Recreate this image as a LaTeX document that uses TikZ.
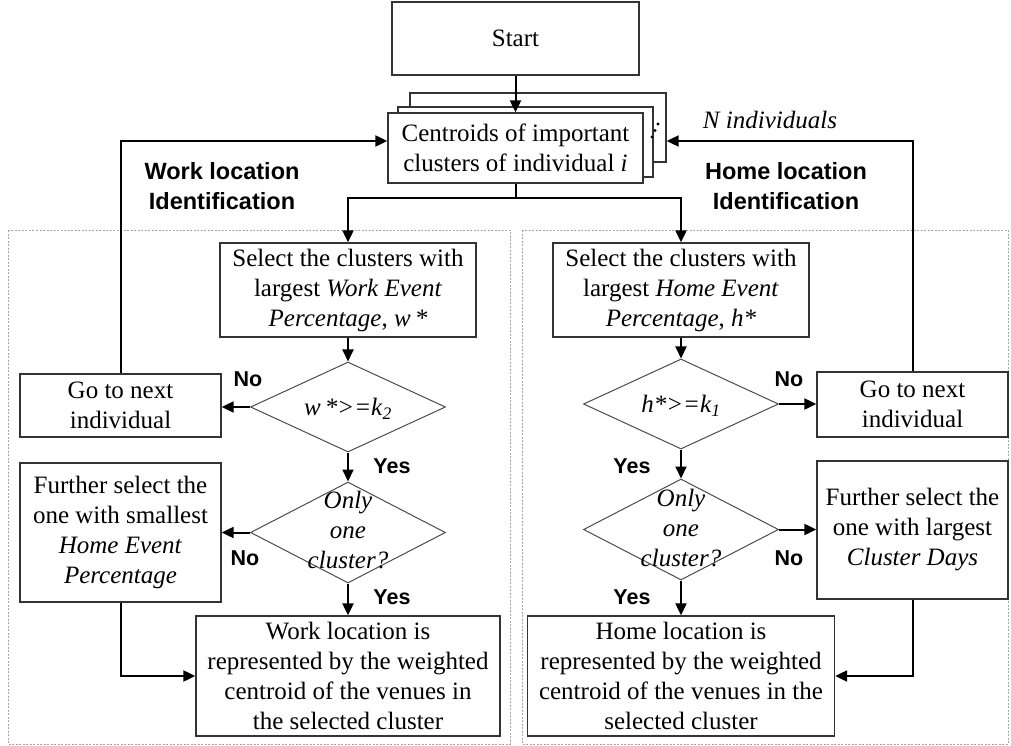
\documentclass[tikz,border=0pt]{standalone}
\usepackage{fontspec}
\setmainfont{Liberation Serif}
\newfontfamily\labfont{Liberation Sans}
\usetikzlibrary{shapes.geometric,arrows.meta}
\begin{document}
\begin{tikzpicture}[x=1pt,y=-1pt,
 every node/.style={font=\fontsize{25}{30}\selectfont},
 box/.style={draw=black!80, line width=1.3pt, fill=white, inner sep=0pt, align=center},
 dia/.style={diamond, draw=black!70, line width=1pt, inner sep=0pt},
 arr/.style={line width=2pt, -{Triangle[length=12pt,width=11pt]}},
 ln/.style={line width=2pt},
 lab/.style={font=\labfont\bfseries\fontsize{21.5}{24}\selectfont, inner sep=0pt},
 sect/.style={font=\labfont\bfseries\fontsize{23.5}{30}\selectfont, align=center, inner sep=0pt},
 region/.style={draw=black!35, line width=0.8pt, dash pattern=on 2pt off 1.5pt},
 txt/.style={inner sep=0pt, align=center}
]
\useasboundingbox (0,0) rectangle (1011,746);
\fill[white] (0,0) rectangle (1011,746);

% dashed regions
\draw[region] (8,230) rectangle (510,744);
\draw[region] (522,230) rectangle (1008,744);

% start and stacked boxes
\node[box, minimum width=247, minimum height=73] (start) at (515.5,38.5) {Start};
\node[box, minimum width=256, minimum height=69] (back) at (538,127.5) {};
\node[box, minimum width=255, minimum height=70] (mid) at (525.5,142) {};
\node[box, minimum width=255, minimum height=70] (front) at (515.5,148) {Centroids of important\\clusters of individual \textit{i}};
\fill (658,124) circle (1.7);
\fill (655,130.5) circle (1.7);
\fill (652,137) circle (1.7);
\node[txt] (nind) at (770,120) {\textit{N individuals}};

% section titles
\node[sect] (secL) at (222,186) {Work location\\Identification};
\node[sect] (secR) at (786,186) {Home location\\Identification};

% left column
\node[box, minimum width=256, minimum height=94] (selL) at (348,290) {Select the clusters with\\largest \textit{Work Event}\\\textit{Percentage}, \textit{w\,*}};
\node[dia, minimum width=195, minimum height=90] (d1L) at (348,407) {};
\node[txt] (d1Lt) at (348,409) {\textit{w\,*>=k}\textsubscript{\textit{2}}};
\node[box, minimum width=201, minimum height=63] (goL) at (120.5,405.5) {Go to next\\individual};
\node[dia, minimum width=195, minimum height=101] (d2L) at (348,532.5) {};
\node[txt] (d2Lt) at (348,530) {\textit{Only}\\\textit{one}\\\textit{cluster?}};
\node[box, minimum width=201, minimum height=139] (furL) at (120.5,532.5) {Further select the\\one with smallest\\\textit{Home Event}\\\textit{Percentage}};
\node[box, minimum width=304, minimum height=120] (resL) at (348,676) {Work location is\\represented by the weighted\\centroid of the venues in\\the selected cluster};

% right column
\node[box, minimum width=256, minimum height=94] (selR) at (681,290) {Select the clusters with\\largest \textit{Home Event}\\\textit{Percentage}, \textit{h*}};
\node[dia, minimum width=195, minimum height=90] (d1R) at (681,404) {};
\node[txt] (d1Rt) at (681,406) {\textit{h*>=k}\textsubscript{\textit{1}}};
\node[box, minimum width=191, minimum height=65] (goR) at (912.5,404.5) {Go to next\\individual};
\node[dia, minimum width=195, minimum height=101] (d2R) at (681,529.5) {};
\node[txt] (d2Rt) at (681,528) {\textit{Only}\\\textit{one}\\\textit{cluster?}};
\node[box, minimum width=191, minimum height=138] (furR) at (912.5,530) {Further select the\\one with largest\\\textit{Cluster Days}};
\node[box, minimum width=307, minimum height=120] (resR) at (681,676) {Home location is\\represented by the weighted\\centroid of the venues in the\\selected cluster};

% labels
\node[lab] (noL1) at (248,379) {No};
\node[lab] (yesL1) at (392,466) {Yes};
\node[lab] (noL2) at (245,558) {No};
\node[lab] (yesL2) at (392,597) {Yes};
\node[lab] (noR1) at (789,379) {No};
\node[lab] (yesR1) at (632,466) {Yes};
\node[lab] (noR2) at (789,558) {No};
\node[lab] (yesR2) at (632,597) {Yes};

% connectors
\draw[arr] (start.south) -- (start.south |- front.north);
\draw[arr] (goL.north) |- ([yshift=7pt]front.west);
\draw[arr] (goR.north) |- ([yshift=-13.5pt]back.east);
\coordinate (split) at (515.5,198);
\draw[ln] (front.south) -- (split);
\draw[arr] (split) -| (selL.north);
\draw[arr] (split) -| (selR.north);

\draw[arr] (selL) -- (d1L);
\draw[arr] (d1L.west) -- (d1L.west -| goL.east);
\draw[arr] (d1L) -- (d2L);
\draw[arr] (d2L.west) -- (d2L.west -| furL.east);
\draw[arr] (d2L) -- (resL);
\draw[arr] (furL.south) |- (resL.west);

\draw[arr] (selR) -- (d1R);
\draw[arr] (d1R.east) -- (d1R.east -| goR.west);
\draw[arr] (d1R) -- (d2R);
\draw[arr] (d2R.east) -- (d2R.east -| furR.west);
\draw[arr] (d2R) -- (resR);
\draw[arr] (furR.south) |- (resR.east);
\end{tikzpicture}
\end{document}
